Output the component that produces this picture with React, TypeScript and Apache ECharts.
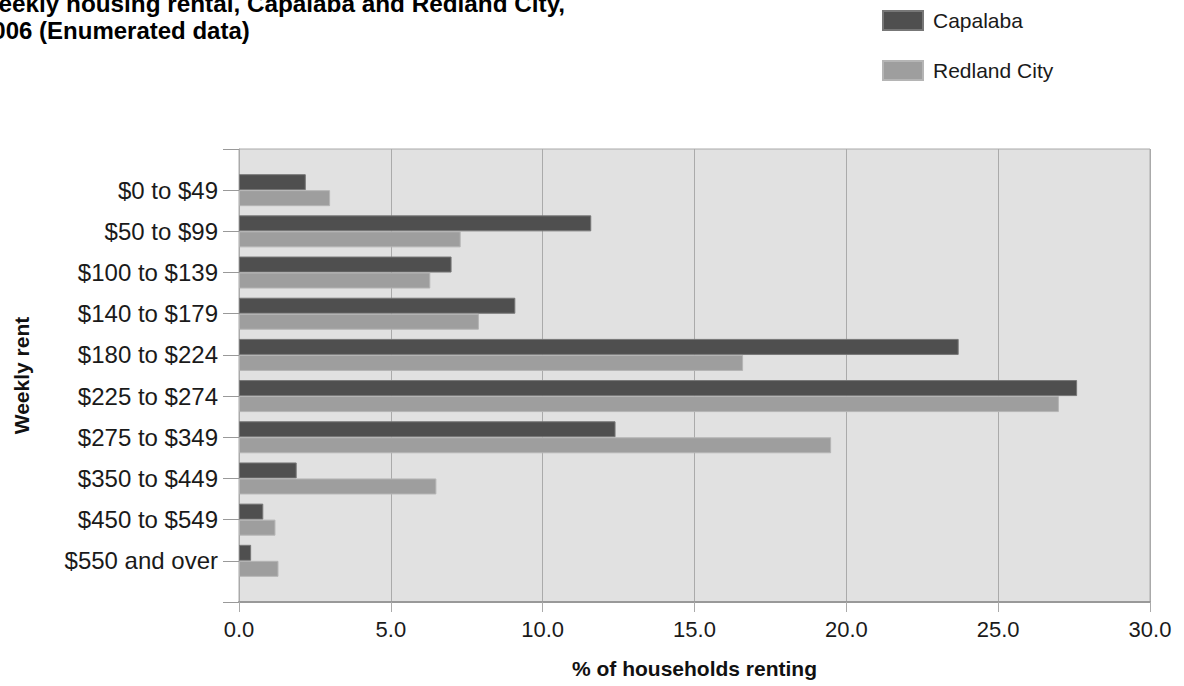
import React, { useEffect, useRef } from "react";
import * as echarts from "echarts";

const categories = [
  "$0 to $49",
  "$50 to $99",
  "$100 to $139",
  "$140 to $179",
  "$180 to $224",
  "$225 to $274",
  "$275 to $349",
  "$350 to $449",
  "$450 to $549",
  "$550 and over",
];
const capalaba = [2.2, 11.6, 7.0, 9.1, 23.7, 27.6, 12.4, 1.9, 0.8, 0.4];
const redlandCity = [3.0, 7.3, 6.3, 7.9, 16.6, 27.0, 19.5, 6.5, 1.2, 1.3];
const seriesNames = ["Capalaba", "Redland City"];
const titleLines = ["Weekly housing rental, Capalaba and Redland City,", "2006 (Enumerated data)"];
const xAxisTitle = "% of households renting";
const yAxisTitle = "Weekly rent";

const FONT = "'Liberation Sans', Arial, sans-serif";

export default function App() {
  const ref = useRef<HTMLDivElement>(null);
  useEffect(() => {
    if (!ref.current) return;
    const chart = echarts.init(ref.current, null, { renderer: "svg" });
    const yData = ["", ...categories, ""];
    const pad = (arr: number[]) => ["-", ...arr, "-"];
    chart.setOption({
      animation: false,
      backgroundColor: "#ffffff",
      textStyle: { fontFamily: FONT },
      graphic: [
        {
          type: "text",
          left: -24,
          top: -9,
          style: { text: titleLines[0], font: `bold 24.3px ${FONT}`, fill: "#000" },
        },
        {
          type: "text",
          left: -21,
          top: 18,
          style: { text: titleLines[1], font: `bold 24px ${FONT}`, fill: "#000" },
        },
      ],
      legend: {
        orient: "vertical",
        left: 882,
        top: 10,
        padding: 0,
        itemWidth: 40,
        itemHeight: 19,
        itemGap: 29,
        icon: "rect",
        data: seriesNames,
        textStyle: {
          fontSize: 21,
          lineHeight: 19,
          color: "#1a1a1a",
          fontFamily: FONT,
          padding: [0, 0, 0, 5],
        },
      },
      grid: {
        left: 239,
        right: 34,
        top: 149,
        bottom: 84,
        show: true,
        backgroundColor: "#e1e1e1",
        borderColor: "#aaaaaa",
        borderWidth: 1,
      },
      xAxis: {
        type: "value",
        min: 0,
        max: 30,
        interval: 5,
        name: xAxisTitle,
        nameLocation: "middle",
        nameGap: 56,
        nameTextStyle: { fontSize: 21, fontWeight: "bold", color: "#111", fontFamily: FONT },
        axisLine: { show: true, lineStyle: { color: "#999", width: 2 } },
        axisTick: { show: true, length: 10, lineStyle: { color: "#aaa" } },
        axisLabel: {
          fontSize: 22,
          color: "#1a1a1a",
          margin: 16,
          fontFamily: FONT,
          formatter: (v: number) => v.toFixed(1),
        },
        splitLine: { show: true, lineStyle: { color: "#aaaaaa", width: 1 } },
      },
      yAxis: {
        type: "category",
        inverse: true,
        boundaryGap: false,
        data: yData,
        name: yAxisTitle,
        nameLocation: "middle",
        nameRotate: 90,
        nameGap: 207,
        nameTextStyle: { fontSize: 21, fontWeight: "bold", color: "#111", fontFamily: FONT },
        axisLine: { show: true, lineStyle: { color: "#aaa" } },
        axisTick: { show: true, length: 16, interval: 0, lineStyle: { color: "#999" } },
        axisLabel: { fontSize: 24, color: "#1a1a1a", margin: 21, interval: 0, fontFamily: FONT },
        splitLine: { show: false },
      },
      series: [
        {
          name: seriesNames[0],
          type: "bar",
          data: pad(capalaba),
          barWidth: 16,
          barGap: "0%",
          itemStyle: { color: "#4f4f4f", borderColor: "#777777", borderWidth: 1 },
        },
        {
          name: seriesNames[1],
          type: "bar",
          data: pad(redlandCity),
          barWidth: 16,
          barGap: "0%",
          itemStyle: { color: "#9e9e9e", borderColor: "#b5b5b5", borderWidth: 1 },
        },
      ],
    });
    return () => chart.dispose();
  }, []);
  return (
    <div
      ref={ref}
      style={{ position: "fixed", left: 0, top: 0, width: 1184, height: 686 }}
    />
  );
}
